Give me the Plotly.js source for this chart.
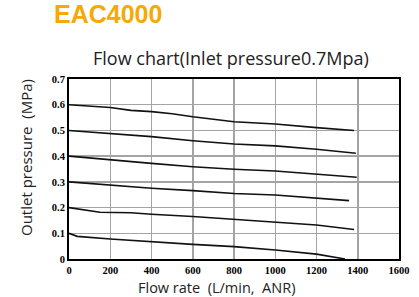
<!DOCTYPE html>
<html>
<head>
<meta charset="utf-8">
<script src="https://cdn.plot.ly/plotly-3.0.1.min.js"></script>
<style>html,body{margin:0;padding:0;background:#fff;}#chart{width:419px;height:297px;}</style>
</head>
<body>
<div id="chart"></div>
<script>
// Flow rate (L/min, ANR) and outlet pressure (MPa) per set pressure curve
const flow06 = [0, 200, 300, 400, 500, 600, 800, 1000, 1200, 1382];
const pres06 = [0.600, 0.589, 0.578, 0.573, 0.565, 0.553, 0.534, 0.525, 0.511, 0.500];
const flow05 = [0, 200, 400, 600, 800, 1000, 1200, 1391];
const pres05 = [0.500, 0.489, 0.476, 0.460, 0.447, 0.440, 0.427, 0.411];
const flow04 = [0, 200, 400, 600, 800, 1000, 1200, 1395];
const pres04 = [0.400, 0.385, 0.372, 0.359, 0.349, 0.342, 0.331, 0.318];
const flow03 = [0, 200, 400, 600, 800, 1000, 1200, 1358];
const pres03 = [0.300, 0.288, 0.275, 0.266, 0.255, 0.249, 0.236, 0.227];
const flow02 = [0, 150, 300, 400, 600, 800, 1000, 1200, 1382];
const pres02 = [0.200, 0.182, 0.180, 0.174, 0.165, 0.154, 0.145, 0.132, 0.115];
const flow01 = [0, 40, 200, 400, 600, 800, 1000, 1200, 1338];
const pres01 = [0.100, 0.088, 0.078, 0.067, 0.057, 0.048, 0.035, 0.019, 0.000];

const xTicks = [0, 200, 400, 600, 800, 1000, 1200, 1400, 1600];
const xTickText = ['0', '200', '400', '600', '800', '1000', '1200', '1400', '1600'];
const yTicks = [0, 0.1, 0.2, 0.3, 0.4, 0.5, 0.6, 0.7];
const yTickText = ['0', '0.1', '0.2', '0.3', '0.4', '0.5', '0.6', '0.7'];

const xMin = xTicks[0], xMax = xTicks[xTicks.length - 1];
const yMin = yTicks[0], yMax = yTicks[yTicks.length - 1];

const series = [
  [flow06, pres06], [flow05, pres05], [flow04, pres04],
  [flow03, pres03], [flow02, pres02], [flow01, pres01]
];
const traces = series.map(s => ({
  x: s[0], y: s[1], type: 'scatter', mode: 'lines',
  line: {color: '#111', width: 1.6}, hoverinfo: 'skip', showlegend: false
}));

const tickFont = {family: 'Liberation Serif', size: 10.5, color: '#000'};
const bold = t => '<b>' + t + '</b>';
const gridColor = '#a4a4a4';

const L = 69, R = 20, T = 79, B = 38, W = 419, H = 297;
const pw = W - L - R, ph = H - T - B;
function px(x) { return (x - L) / pw; }
function py(y) { return (H - B - y) / ph; }

const layout = {
  width: W, height: H,
  margin: {l: L, r: R, t: T, b: B, pad: 0},
  paper_bgcolor: '#fff', plot_bgcolor: '#fff',
  showlegend: false,
  xaxis: {
    range: [xMin, xMax], tickmode: 'array', tickvals: xTicks, ticktext: xTickText.map(bold),
    showgrid: true, gridcolor: gridColor, gridwidth: 1.5,
    showline: true, linecolor: '#000', linewidth: 2, mirror: true,
    ticks: '', zeroline: false, tickfont: tickFont
  },
  yaxis: {
    range: [yMin, yMax], tickmode: 'array', tickvals: yTicks, ticktext: yTickText.map(bold),
    showgrid: true, gridcolor: gridColor, gridwidth: 1.5,
    showline: true, linecolor: '#000', linewidth: 2, mirror: true,
    ticks: '', zeroline: false, tickfont: tickFont
  },
  annotations: [
    {text: '<b>EAC4000</b>', x: px(108), y: py(14),
     font: {family: 'Liberation Sans', size: 25, color: '#F5A905'}},
    {text: 'Flow chart(Inlet pressure0.7Mpa)', x: px(231), y: py(58.5),
     font: {family: 'Open Sans', size: 18, color: '#222'}},
    {text: 'Flow rate  (L/min,  ANR)', x: px(216), y: py(287),
     font: {family: 'Open Sans', size: 14.5, color: '#222'}},
    {text: 'Outlet pressure  (MPa)', x: px(26), y: py(158), textangle: -90,
     font: {family: 'Open Sans', size: 15, color: '#222'}}
  ]
};
layout.annotations.forEach(a => {
  a.xref = 'paper'; a.yref = 'paper'; a.showarrow = false;
  a.xanchor = 'center'; a.yanchor = 'middle';
});

Plotly.newPlot('chart', traces, layout, {displayModeBar: false, staticPlot: true});
</script>
</body>
</html>
